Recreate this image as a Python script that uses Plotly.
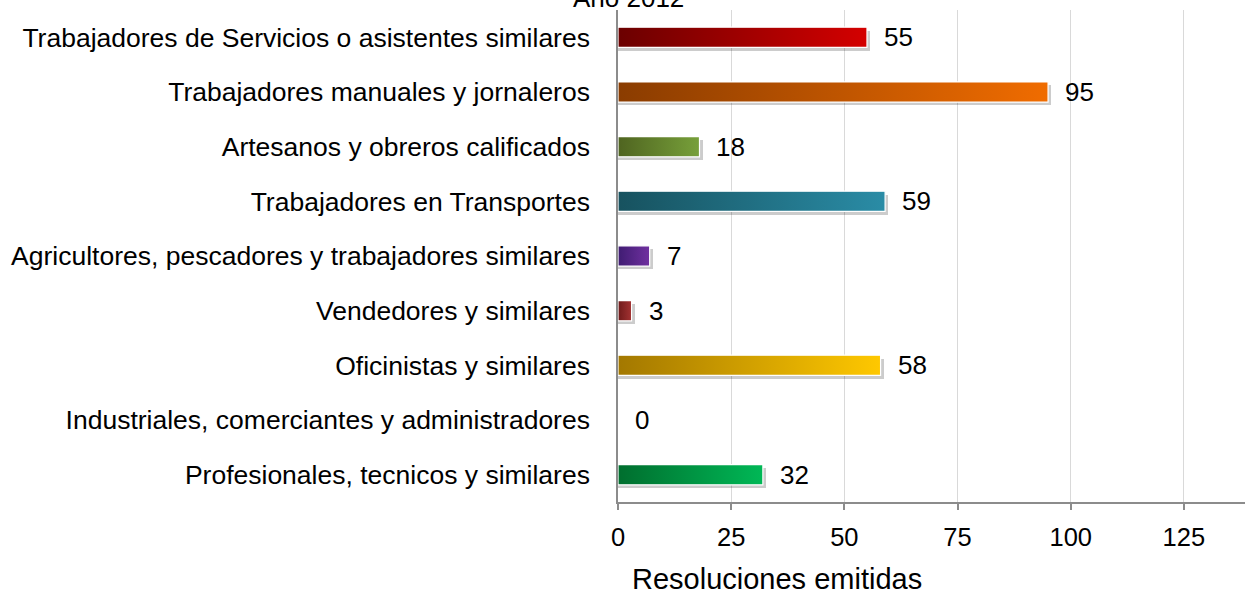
import plotly.graph_objects as go

categorias = [
    "Trabajadores de Servicios o asistentes similares",
    "Trabajadores manuales y jornaleros",
    "Artesanos y obreros calificados",
    "Trabajadores en Transportes",
    "Agricultores, pescadores y trabajadores similares",
    "Vendedores y similares",
    "Oficinistas y similares",
    "Industriales, comerciantes y administradores",
    "Profesionales, tecnicos y similares",
]
resoluciones = [55, 95, 18, 59, 7, 3, 58, 0, 32]
color_oscuro = ["#6B0000", "#8A3C00", "#4F6420", "#17525F", "#3F1C72",
                "#6E1A1A", "#A37800", "#555555", "#006E2E"]
color_claro = ["#D40000", "#F06C00", "#77A03A", "#2A8CA6", "#7030A0",
               "#A33232", "#FFC800", "#999999", "#00B856"]
ticks_x = [0, 25, 50, 75, 100, 125]

FUENTE = "Liberation Sans, Arial, sans-serif"
ancho = 0.37

fig = go.Figure()

# sombra suave de cada barra
fig.add_trace(go.Bar(
    y=[i + 0.06 for i in range(len(categorias))],
    x=[v + 0.7 if v > 0 else 0 for v in resoluciones],
    orientation="h",
    width=ancho,
    marker=dict(color="rgba(0,0,0,0.2)", line=dict(width=0)),
    hoverinfo="skip",
    showlegend=False,
))

# barras con degradado horizontal
for i, (cat, v) in enumerate(zip(categorias, resoluciones)):
    if v <= 0:
        continue
    y0, y1 = i - ancho / 2, i + ancho / 2
    fig.add_trace(go.Scatter(
        x=[0, v, v, 0, 0],
        y=[y0, y0, y1, y1, y0],
        mode="lines",
        fill="toself",
        fillgradient=dict(type="horizontal",
                          colorscale=[[0, color_oscuro[i]], [1, color_claro[i]]]),
        line=dict(color="white", width=1.2),
        name=cat,
        hovertemplate=f"<b>{cat}</b><br>{v}<extra></extra>",
        showlegend=False,
    ))

anotaciones = []
for i, v in enumerate(resoluciones):
    anotaciones.append(dict(
        x=v, y=i, xref="x", yref="y", text=str(v), showarrow=False,
        xanchor="left", xshift=15, font=dict(family=FUENTE, size=26, color="black"),
    ))
anotaciones.append(dict(
    x=0.2536, y=-0.1565, xref="paper", yref="paper", xanchor="center", yanchor="middle",
    text="Resoluciones emitidas", showarrow=False,
    font=dict(family=FUENTE, size=29, color="black"),
))
# el título queda medio cortado arriba, como en el original
anotaciones.append(dict(
    x=0.016, y=1.0244, xref="paper", yref="paper", xanchor="center", yanchor="middle",
    text="Año 2012", showarrow=False,
    font=dict(family=FUENTE, size=26, color="black"),
))

fig.update_layout(
    width=1245, height=594,
    margin=dict(l=618, r=0, t=10, b=92),
    plot_bgcolor="white",
    paper_bgcolor="white",
    showlegend=False,
    bargap=0,
    font=dict(family=FUENTE, size=26, color="black"),
    xaxis=dict(
        range=[0, 138.5], tickvals=ticks_x, showgrid=True, gridcolor="#D9D9D9",
        gridwidth=1.3, zeroline=False, showline=True, linecolor="#8C8C8C", linewidth=1.5,
        ticks="outside", ticklen=6, tickcolor="#8C8C8C", tickwidth=1.5,
        ticklabelstandoff=6, tickfont=dict(family=FUENTE, size=25.5, color="black"),
    ),
    yaxis=dict(
        range=[8.5, -0.5], tickvals=list(range(len(categorias))), ticktext=categorias,
        showgrid=False, zeroline=False, showline=True, linecolor="#8C8C8C", linewidth=1.5,
        ticks="", ticklabelstandoff=21, tickfont=dict(family=FUENTE, size=26.5, color="black"),
    ),
    annotations=anotaciones,
)

# quitar el margen por defecto del body para que el gráfico empiece en (0, 0)
fig.write_html("out.html", config={"displayModeBar": False},
               post_script="document.body.style.margin='0';")
